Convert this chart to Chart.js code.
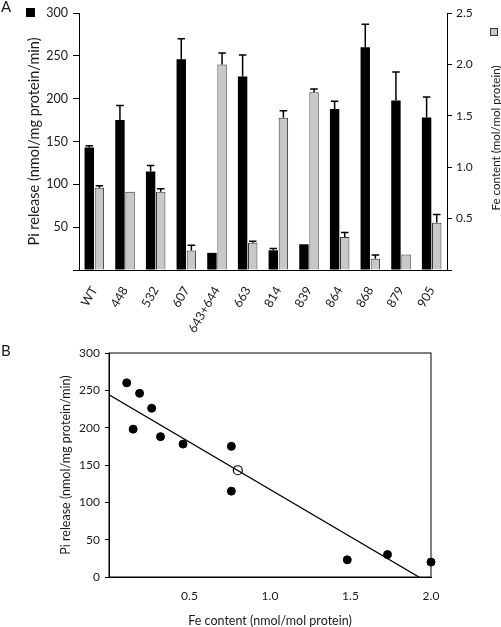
<!DOCTYPE html>
<html>
<head>
<meta charset="utf-8">
<script src="https://cdn.jsdelivr.net/npm/chart.js@4/dist/chart.umd.min.js"></script>
<style>
  body { margin: 0; background: #fff; width: 501px; height: 627px; overflow: hidden; position: relative; }
  canvas { position: absolute; left: 0; }
  #chartA { top: 0; }
  #chartB { top: 335px; }
</style>
</head>
<body>
<canvas id="chartA" width="501" height="345"></canvas>
<canvas id="chartB" width="501" height="292"></canvas>
<script>
// mutants on the x axis of panel A
var mutants = ['WT', '448', '532', '607', '643+644', '663', '814', '839', '864', '868', '879', '905'];

// Pi release (nmol/mg protein/min) and its error
var piRelease = [143, 175, 115, 246, 20, 226, 23, 30, 188, 260, 198, 178];
var piError = [2, 17, 7, 24, 0, 25, 2, 0, 9, 27, 33, 24];

// Fe content (mol/mol protein) and its error
var feContent = [0.80, 0.76, 0.76, 0.19, 2.00, 0.265, 1.48, 1.73, 0.32, 0.11, 0.15, 0.46];
var feError = [0.02, 0, 0.03, 0.05, 0.11, 0.015, 0.07, 0.03, 0.045, 0.035, 0, 0.08];

// fitted line of panel B, ends
var fitFe = [0, 1.925];
var fitPi = [244, 0];

var font = 'Lato';
var ink = '#1a1a1a';

// upper error bars drawn on top of each bar
var errorBars = {
  id: 'errorBars',
  afterDatasetsDraw: function(chart) {
    var ctx = chart.ctx;
    chart.data.datasets.forEach(function(ds, i) {
      if (!ds.errors) return;
      var meta = chart.getDatasetMeta(i);
      var scale = chart.scales[ds.yAxisID];
      meta.data.forEach(function(bar, j) {
        var err = ds.errors[j];
        if (!err) return;
        var yTop = scale.getPixelForValue(ds.data[j] + err);
        var half = bar.width * 0.4;
        ctx.save();
        ctx.strokeStyle = '#000';
        ctx.lineWidth = 1.5;
        ctx.beginPath();
        ctx.moveTo(bar.x, bar.y);
        ctx.lineTo(bar.x, yTop);
        ctx.moveTo(bar.x - half, yTop);
        ctx.lineTo(bar.x + half, yTop);
        ctx.stroke();
        ctx.restore();
      });
    });
  }
};

// panel letter, legend squares and right axis title
var decorA = {
  id: 'decorA',
  afterDraw: function(chart) {
    var ctx = chart.ctx;
    ctx.save();
    ctx.fillStyle = ink;
    ctx.font = '15px ' + font;
    ctx.textBaseline = 'top';
    ctx.fillText('A', 1, 0);
    ctx.fillStyle = '#000';
    ctx.fillRect(26, 8, 9, 9);
    ctx.fillStyle = '#c8c8c8';
    ctx.fillRect(490, 28, 8, 8);
    ctx.strokeStyle = '#333';
    ctx.lineWidth = 1;
    ctx.strokeRect(490.5, 28.5, 7, 7);
    ctx.translate(496, 138);
    ctx.rotate(-Math.PI / 2);
    ctx.fillStyle = ink;
    ctx.font = '11.6px ' + font;
    ctx.textAlign = 'center';
    ctx.textBaseline = 'middle';
    ctx.fillText('Fe content (mol/mol protein)', 0, 0);
    ctx.restore();
  }
};

var decorB = {
  id: 'decorB',
  afterDraw: function(chart) {
    var ctx = chart.ctx;
    var a = chart.chartArea;
    ctx.save();
    ctx.strokeStyle = '#000';
    ctx.lineWidth = 1;
    ctx.strokeRect(a.left, a.top, a.right - a.left, a.bottom - a.top);
    ctx.fillStyle = ink;
    ctx.font = '15px ' + font;
    ctx.textBaseline = 'top';
    ctx.fillText('B', 1, 9);
    ctx.restore();
  }
};

new Chart(document.getElementById('chartA'), {
  type: 'bar',
  data: {
    labels: mutants,
    datasets: [{
      label: 'Pi release',
      data: piRelease,
      errors: piError,
      yAxisID: 'y',
      backgroundColor: '#000',
      borderWidth: 0
    }, {
      label: 'Fe content',
      data: feContent,
      errors: feError,
      yAxisID: 'y2',
      backgroundColor: '#c8c8c8',
      borderColor: '#333',
      borderWidth: 1
    }]
  },
  options: {
    responsive: false,
    animation: false,
    categoryPercentage: 0.66,
    barPercentage: 0.93,
    layout: { padding: { top: 13, left: 0, right: 0, bottom: 0 } },
    plugins: { legend: { display: false }, tooltip: { enabled: false } },
    scales: {
      x: {
        grid: { display: false },
        border: { color: '#000', width: 1 },
        ticks: {
          autoSkip: false, minRotation: 60, maxRotation: 60, padding: 6,
          color: ink, font: { family: font, size: 12.5 }
        },
        afterFit: function(s) { s.height = 75; }
      },
      y: {
        position: 'left',
        min: 0, max: 300,
        grid: { drawOnChartArea: false, drawTicks: true, tickLength: 6, color: '#000' },
        border: { color: '#000', width: 1 },
        ticks: {
          stepSize: 50, padding: 5, color: ink, font: { family: font, size: 12.5 },
          callback: function(v) { return v === 0 ? '' : v; }
        },
        title: {
          display: true, text: 'Pi release (nmol/mg protein/min)', color: ink,
          font: { family: font, size: 14.5 }, padding: { top: 26, bottom: 0 }
        },
        afterFit: function(s) { s.width = 79; }
      },
      y2: {
        position: 'right',
        min: 0, max: 2.5,
        grid: { drawOnChartArea: false, drawTicks: true, tickLength: 5, color: '#000' },
        border: { color: '#000', width: 1 },
        ticks: {
          stepSize: 0.5, padding: 4, color: ink, font: { family: font, size: 12 },
          callback: function(v) { return v === 0 ? '' : v.toFixed(1); }
        },
        afterFit: function(s) { s.width = 54; }
      }
    }
  },
  plugins: [errorBars, decorA]
});

// panel B points built from the same arrays; WT is the open circle
var mutantPoints = [];
var wtPoints = [];
for (var i = 0; i < mutants.length; i++) {
  var p = { x: feContent[i], y: piRelease[i] };
  if (mutants[i] === 'WT') wtPoints.push(p); else mutantPoints.push(p);
}
var fitPoints = [];
for (var i = 0; i < fitFe.length; i++) {
  fitPoints.push({ x: fitFe[i], y: fitPi[i] });
}

new Chart(document.getElementById('chartB'), {
  type: 'scatter',
  data: {
    datasets: [{
      type: 'line',
      data: fitPoints,
      borderColor: '#000',
      borderWidth: 1.3,
      pointRadius: 0,
      fill: false
    }, {
      data: mutantPoints,
      backgroundColor: '#000',
      borderColor: '#000',
      pointRadius: 4,
      clip: false
    }, {
      data: wtPoints,
      backgroundColor: '#fff',
      borderColor: '#000',
      borderWidth: 1.2,
      pointRadius: 4.5,
      clip: false
    }]
  },
  options: {
    responsive: false,
    animation: false,
    layout: { padding: { top: 18, left: 0, right: 70, bottom: 0 } },
    plugins: { legend: { display: false }, tooltip: { enabled: false } },
    scales: {
      x: {
        type: 'linear',
        min: 0, max: 2.0,
        grid: { display: false },
        border: { color: '#000', width: 1 },
        ticks: {
          stepSize: 0.5, padding: 4, color: ink, font: { family: font, size: 12 },
          callback: function(v) { return v === 0 ? '' : v.toFixed(1); }
        },
        title: {
          display: true, text: 'Fe content (nmol/mol protein)', color: ink,
          font: { family: font, size: 12.5 }, padding: { top: 0, bottom: -1 }
        },
        afterFit: function(s) { s.height = 50; }
      },
      y: {
        min: 0, max: 300,
        grid: { drawOnChartArea: false, drawTicks: true, tickLength: 4, color: '#000' },
        border: { color: '#000', width: 1 },
        ticks: { stepSize: 50, padding: 5, color: ink, font: { family: font, size: 12 } },
        title: {
          display: true, text: 'Pi release (nmol/mg protein/min)', color: ink,
          font: { family: font, size: 12.5 }, padding: { top: 58, bottom: 0 }
        },
        afterFit: function(s) { s.width = 109; }
      }
    }
  },
  plugins: [decorB]
});
</script>
</body>
</html>
